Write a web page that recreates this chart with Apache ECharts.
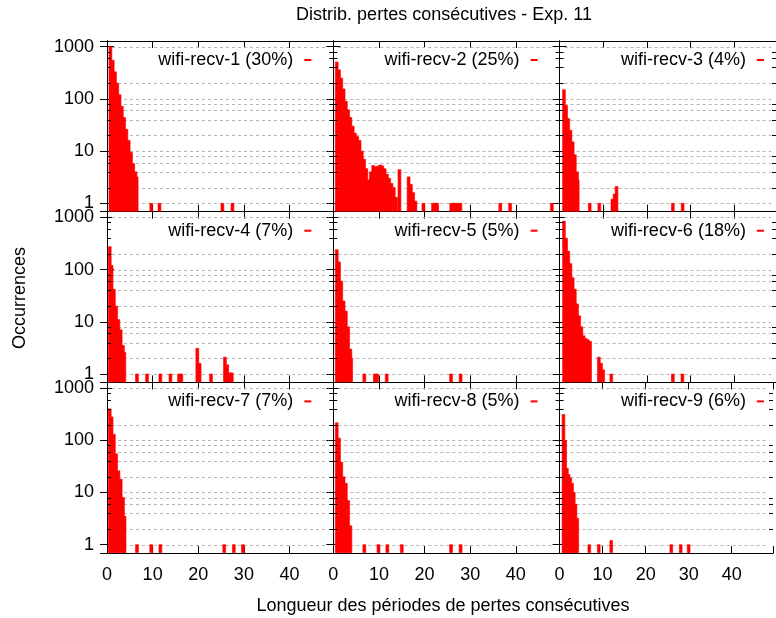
<!DOCTYPE html>
<html>
<head>
<meta charset="utf-8">
<script src="https://cdn.jsdelivr.net/npm/echarts@6/dist/echarts.min.js"></script>
<style>
  html, body { margin: 0; padding: 0; background: #fff; }
  #main { width: 776px; height: 618px; }
</style>
</head>
<body>
<div id="main"></div>
<script>
// noms des panneaux (légendes)
var panelNames = ['wifi-recv-1 (30%)', 'wifi-recv-2 (25%)', 'wifi-recv-3 (4%)',
                  'wifi-recv-4 (7%)', 'wifi-recv-5 (5%)', 'wifi-recv-6 (18%)',
                  'wifi-recv-7 (7%)', 'wifi-recv-8 (5%)', 'wifi-recv-9 (6%)'];

// [longueur, occurrences]
var recv1 = [[0.75,1000],[1.25,550],[1.75,330],[2.25,200],[2.75,120],[3.25,72],[3.75,44],[4.25,26],
             [4.75,16],[5.25,9.5],[5.75,5.8],[6.25,4],[6.5,3.2],
             [9.7,1],[11.5,1],[25.3,1],[27.5,1]];
var recv2 = [[0.75,510],[1.25,360],[1.75,250],[2.25,155],[2.75,90],[3.25,62],[3.75,44],[4.25,30],
             [4.75,22],[5.25,19],[5.75,16],[6.25,10],[6.75,7],[7.25,4.6],[7.75,2.8],[8.25,4],
             [8.75,5.3],[9.25,5],[9.75,5.1],[10.25,5.4],[10.75,5.2],[11.25,4.6],[11.75,3.6],
             [12.25,3],[12.75,2.4],[13.25,2],[13.75,1.3],[14.5,4.4],
             [16.5,3.2],[17,2.3],[17.5,1.6],[18,1.1],
             [19.75,1],[21.85,1],[22.35,1],[22.75,1],[25.85,1],[26.35,1],[26.85,1],[27.35,1],[27.85,1],
             [36.6,1],[38.75,1],[47.9,1]];
var recv3 = [[1,150],[1.5,75],[2,42],[2.5,25],[3,15],[3.5,8.5],[4,4],[4.15,2.8],
             [6.9,1],[9.1,1],[12.1,1.2],[12.6,1.5],[13.05,2.1],[25.96,1],[28.2,1]];
var recv4 = [[0.6,275],[1,120],[1.5,42],[2,20],[2.5,11],[3,7],[3.5,3.5],[3.8,2.6],
             [6.57,1],[8.77,1],[11.7,1],[13.9,1],[15.8,1],[16.3,1],[19.8,3.1],[20.3,1.6],
             [22.8,1],[25.85,2.1],[26.35,1.5],[26.85,1.05],[27.35,1.05]];
var recv5 = [[0.75,240],[1.25,140],[1.75,60],[2.25,25],[2.75,16],[3.25,8],[3.75,3],[3.9,2],
             [6.8,1],[9.1,1],[9.6,1],[11.7,1],[25.8,1],[27.9,1]];
var recv6 = [[1,850],[1.5,400],[2,225],[2.5,130],[3,70],[3.5,42],[4,22],[4.5,13],[5,8],
             [5.5,5.4],[6,4.8],[6.5,4.5],[7,4.2],
             [9,2.1],[9.5,1.6],[10,1.2],[11.85,1],[25.96,1],[28.15,1]];
var recv7 = [[0.6,400],[1,280],[1.5,130],[2,55],[2.5,26],[3,18],[3.5,8],[3.85,3.5],
             [6.57,1],[9.7,1],[11.7,1],[25.7,1],[27.8,1],[29.8,1]];
var recv8 = [[0.75,216],[1.25,110],[1.75,38],[2.25,20],[2.75,15],[3.25,7],[3.75,2.3],
             [6.8,1],[9.9,1],[11.85,1],[15,1],[25.8,1],[27.9,1]];
var recv9 = [[0.9,313],[1.3,100],[1.7,29],[2.1,22],[2.5,19],[2.9,15],[3.3,10],[3.7,6],[4.1,3.2],
             [6.9,1],[9.1,1],[12,1.2],[25.96,1],[28.15,1],[30,1]];
var panelData = [recv1, recv2, recv3, recv4, recv5, recv6, recv7, recv8, recv9];

// graduations
var xTickLabels = [0, 10, 20, 30, 40];
var yTickLabels = [1, 10, 100, 1000];
var gridValues = [1, 2, 4, 6, 8, 10, 20, 40, 60, 80, 100, 200, 1000];
var minorTicks = [2, 4, 6, 8, 20, 40, 60, 80, 200, 400, 600, 800];

var FONT = 'Liberation Sans, Arial, sans-serif';
var colLeft = [107, 333.3, 559.6];
var rowTop = [41, 211.7, 382.4];
var W = 226.3, H = 170.7;
var X_MAX = 49.6, Y_MIN = 0.69, Y_MAX = 1285;

var myChart = echarts.init(document.getElementById('main'));

function drawBar(params, api) {
    var x = api.value(0), v = api.value(1);
    var a = api.coord([x - 0.25, v]);
    var b = api.coord([x + 0.25, v]);
    var base = params.coordSys.y + params.coordSys.height - 0.5;
    return {
        type: 'rect',
        shape: { x: a[0] - 0.3, y: a[1], width: b[0] - a[0] + 0.6, height: base - a[1] },
        style: { fill: '#ff0000', stroke: '#ff0000', lineWidth: 0.6 }
    };
}

// lignes de grille pointillées
function drawGridLine(params, api) {
    var p = api.coord([0, api.value(1)]);
    var cs = params.coordSys;
    var y = Math.round(p[1]) + 0.5;
    return {
        type: 'line',
        shape: { x1: cs.x + 5, y1: y, x2: cs.x + cs.width - 5, y2: y },
        style: { stroke: '#b4b4b4', lineWidth: 1, lineDash: [3, 3] }
    };
}

// petites graduations (gauche et droite)
function drawMinorTick(params, api) {
    var p = api.coord([0, api.value(1)]);
    var cs = params.coordSys;
    var y = Math.round(p[1]) + 0.5;
    return {
        type: 'group',
        children: [
            { type: 'line', shape: { x1: cs.x, y1: y, x2: cs.x + 4, y2: y }, style: { stroke: '#000', lineWidth: 1 } },
            { type: 'line', shape: { x1: cs.x + cs.width - 4, y1: y, x2: cs.x + cs.width, y2: y }, style: { stroke: '#000', lineWidth: 1 } }
        ]
    };
}

function xFormatter(v) { return xTickLabels.indexOf(Math.round(v * 1000) / 1000) >= 0 ? String(v) : ''; }
function yFormatter(v) {
    var r = Math.round(v);
    return (yTickLabels.indexOf(r) >= 0 && Math.abs(v - r) < 1e-6 * r) ? String(r) : '';
}

var grids = [], xAxes = [], yAxes = [], series = [], legends = [];
var axisLine = { show: true, lineStyle: { color: '#000', width: 1 } };
var tick = { show: true, inside: true, length: 7, lineStyle: { color: '#000' } };

for (var i = 0; i < 9; i++) {
    var r = Math.floor(i / 3), c = i % 3;
    grids.push({ left: colLeft[c], top: rowTop[r], width: W, height: H });

    var xi = xAxes.length;
    xAxes.push({
        type: 'value', gridIndex: i, position: 'bottom', min: 0, max: X_MAX, interval: 10,
        axisLine: axisLine, axisTick: tick, splitLine: { show: false },
        axisLabel: { show: r === 2, margin: 13, color: '#000', fontSize: 18, fontFamily: FONT, formatter: xFormatter }
    });
    xAxes.push({
        type: 'value', gridIndex: i, position: 'top', min: 0, max: X_MAX, interval: 10,
        axisLine: axisLine, axisTick: tick, splitLine: { show: false }, axisLabel: { show: false }
    });

    var yi = yAxes.length;
    yAxes.push({
        type: 'log', gridIndex: i, position: 'left', min: Y_MIN, max: Y_MAX,
        axisLine: axisLine, axisTick: tick, splitLine: { show: false },
        axisLabel: { show: c === 0, margin: 13, color: '#000', fontSize: 18, fontFamily: FONT, formatter: yFormatter }
    });
    yAxes.push({
        type: 'log', gridIndex: i, position: 'right', min: Y_MIN, max: Y_MAX,
        axisLine: axisLine, axisTick: tick, splitLine: { show: false }, axisLabel: { show: false }
    });

    series.push({
        type: 'custom', xAxisIndex: xi, yAxisIndex: yi, z: 1, silent: true,
        renderItem: drawGridLine, encode: { x: 0, y: 1 },
        data: gridValues.map(function (v) { return [0, v]; })
    });
    series.push({
        type: 'custom', xAxisIndex: xi, yAxisIndex: yi, z: 3, silent: true,
        renderItem: drawMinorTick, encode: { x: 0, y: 1 },
        data: minorTicks.map(function (v) { return [0, v]; })
    });
    series.push({
        name: panelNames[i], type: 'custom', xAxisIndex: xi, yAxisIndex: yi, z: 2,
        color: '#ff0000', itemStyle: { color: '#ff0000', borderWidth: 0 },
        renderItem: drawBar, encode: { x: 0, y: 1 },
        data: panelData[i]
    });

    legends.push({
        data: [panelNames[i]], selectedMode: false, orient: 'horizontal',
        right: 776 - (colLeft[c] + W - 22), top: rowTop[r] + 10, padding: 0,
        align: 'right', icon: 'rect', itemWidth: 7, itemHeight: 2,
        itemStyle: { color: '#ff0000', borderWidth: 0 },
        textStyle: { color: '#000', fontSize: 18, fontFamily: FONT, padding: [0, 6, 0, 0] }
    });
}

myChart.setOption({
    animation: false,
    backgroundColor: '#fff',
    grid: grids,
    xAxis: xAxes,
    yAxis: yAxes,
    legend: legends,
    series: series,
    graphic: [
        { type: 'text', x: 444, y: 15, style: { text: 'Distrib. pertes consécutives - Exp. 11', textAlign: 'center', textVerticalAlign: 'middle', font: '18px ' + FONT, fill: '#000' } },
        { type: 'text', x: 443, y: 606, style: { text: 'Longueur des périodes de pertes consécutives', textAlign: 'center', textVerticalAlign: 'middle', font: '18px ' + FONT, fill: '#000' } },
        { type: 'text', x: 20, y: 298, rotation: Math.PI / 2, style: { text: 'Occurrences', textAlign: 'center', textVerticalAlign: 'middle', font: '18px ' + FONT, fill: '#000' } }
    ]
});
</script>
</body>
</html>
